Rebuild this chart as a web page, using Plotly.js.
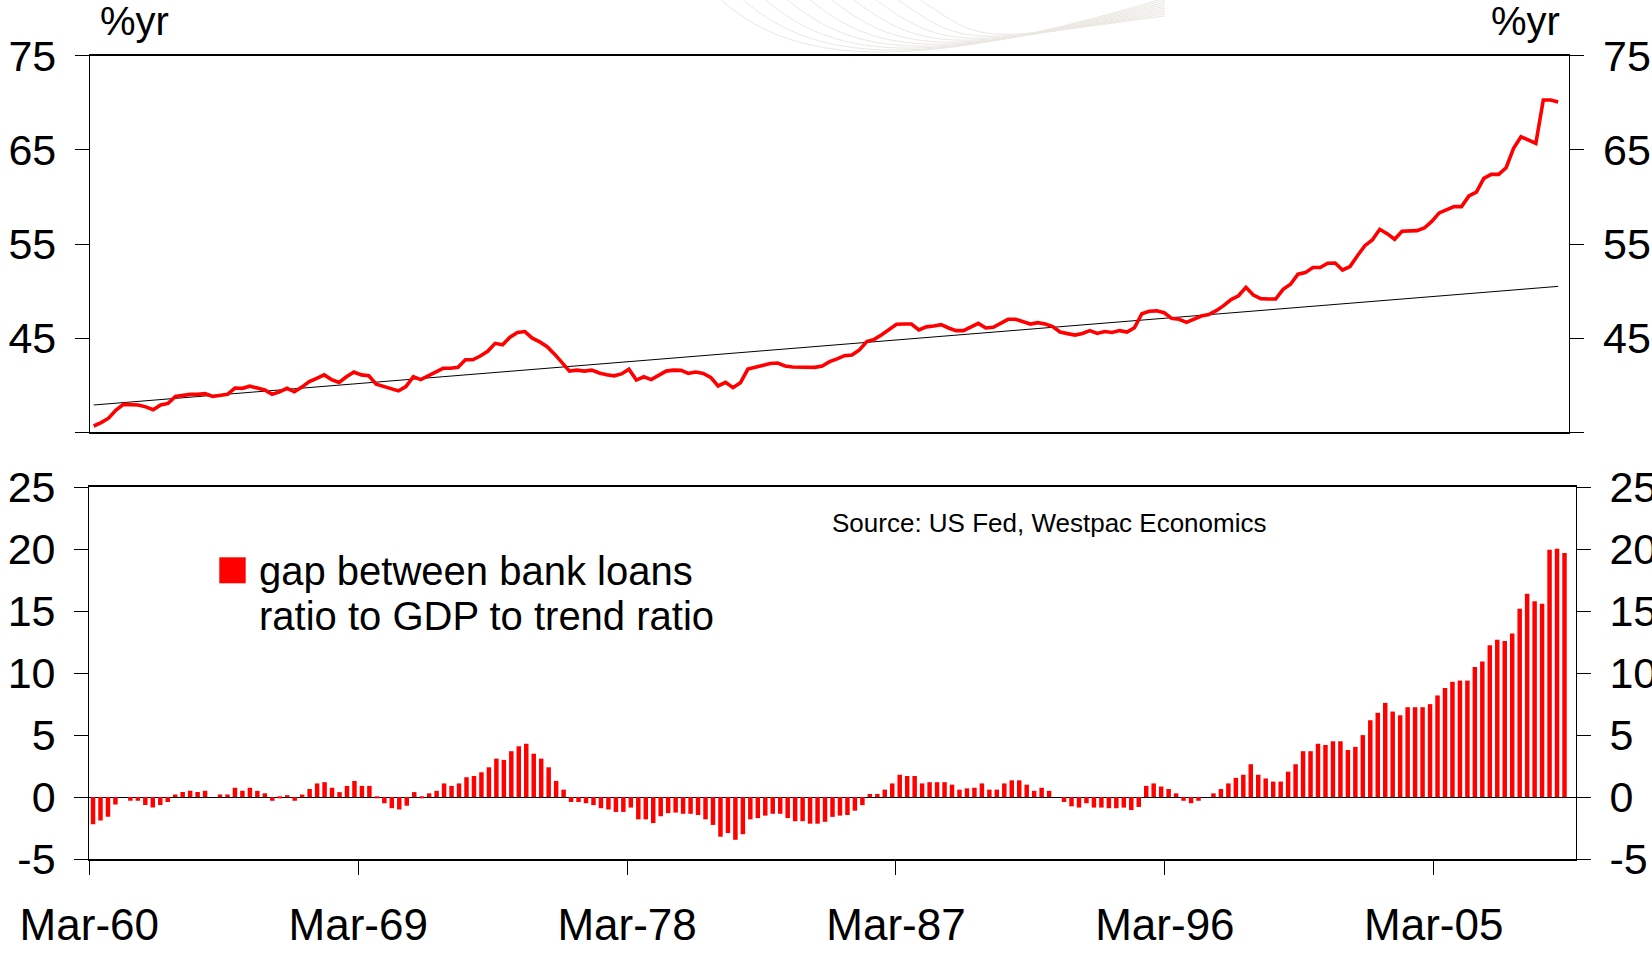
<!DOCTYPE html>
<html>
<head>
<meta charset="utf-8">
<script src="https://cdn.plot.ly/plotly-3.0.1.min.js"></script>
<style>
  html, body { margin: 0; padding: 0; background: #ffffff; }
  #chart { width: 1652px; height: 953px; }
</style>
</head>
<body>
<div id="chart"></div>
<script>
// ---- Data (quarterly, Mar-60 onwards) ----
const startYear = 1960;
const quarterMonths = ['Mar', 'Jun', 'Sep', 'Dec'];

// Bank loans ratio to GDP (%)
const loansToGDP = [
  35.67, 36.03, 36.5, 37.37, 37.97, 37.9, 37.9, 37.7, 37.4, 37.9,
  38.07, 38.8, 38.9, 39.03, 39.03, 39.1, 38.8, 38.9, 39.03, 39.7,
  39.67, 39.9, 39.7, 39.5, 39.03, 39.3, 39.67, 39.3, 39.8, 40.38,
  40.73, 41.1, 40.6, 40.3, 40.9, 41.4, 41.1, 41.0, 40.1, 39.85,
  39.67, 39.4, 39.85, 40.9, 40.6, 41.0, 41.4, 41.8, 41.8, 41.9,
  42.7, 42.7, 43.1, 43.6, 44.45, 44.3, 45.1, 45.6, 45.7, 45.0,
  44.6, 44.1, 43.3, 42.45, 41.5, 41.6, 41.5, 41.6, 41.3, 41.12,
  41.0, 41.2, 41.7, 40.55, 40.9, 40.6, 41.09, 41.5, 41.6, 41.58,
  41.26, 41.4, 41.26, 40.84, 39.92, 40.3, 39.74, 40.27, 41.72, 41.9,
  42.04, 42.3, 42.36, 42.04, 41.93, 41.9, 41.9, 41.9, 42.04, 42.5,
  42.8, 43.14, 43.2, 43.74, 44.63, 44.87, 45.37, 45.87, 46.47, 46.5,
  46.5, 45.87, 46.2, 46.29, 46.43, 46.08, 45.8, 45.8, 46.15, 46.57,
  46.08, 46.15, 46.57, 47.0, 47.0, 46.75, 46.5, 46.65, 46.5, 46.22,
  45.65, 45.48, 45.33, 45.5, 45.8, 45.5, 45.7, 45.6, 45.8, 45.65,
  46.1, 47.6, 47.85, 47.9, 47.7, 47.1, 47.0, 46.68, 47.03, 47.35,
  47.5, 47.92, 48.45, 49.1, 49.5, 50.4, 49.58, 49.2, 49.16, 49.16,
  50.19, 50.72, 51.8, 51.96, 52.5, 52.5, 52.95, 52.98, 52.24, 52.6,
  53.76, 54.82, 55.43, 56.56, 56.1, 55.5, 56.35, 56.42, 56.42, 56.7,
  57.4, 58.3, 58.68, 58.97, 58.97, 60.1, 60.5, 61.97, 62.4, 62.4,
  63.1, 65.16, 66.4, 66.0, 65.69, 70.3, 70.3, 70.08
];

// Trend ratio: straight line, first and last values
const trendEnds = [37.9, 50.5];

// Gap between bank loans ratio to GDP and trend ratio (ppt)
const gapToTrend = [
  -2.2, -1.9, -1.6, -0.6, 0.0, -0.3, -0.3, -0.65, -0.85, -0.65,
  -0.4, 0.2, 0.4, 0.5, 0.4, 0.5, 0.0, 0.2, 0.2, 0.75,
  0.5, 0.75, 0.5, 0.3, -0.3, -0.1, 0.15, -0.3, 0.2, 0.65,
  1.1, 1.2, 0.75, 0.4, 0.9, 1.3, 0.9, 0.9, -0.1, -0.5,
  -0.9, -1.0, -0.7, 0.4, -0.1, 0.3, 0.5, 1.1, 0.9, 1.1,
  1.6, 1.7, 2.0, 2.4, 3.1, 3.0, 3.7, 4.1, 4.3, 3.5,
  3.1, 2.4, 1.3, 0.6, -0.4, -0.4, -0.5, -0.65, -0.9, -1.0,
  -1.2, -1.2, -0.85, -1.8, -1.8, -2.1, -1.55, -1.3, -1.25, -1.35,
  -1.35, -1.45, -1.8, -2.25, -3.2, -2.9, -3.45, -3.0, -1.8, -1.7,
  -1.5, -1.35, -1.35, -1.7, -1.95, -1.95, -2.15, -2.15, -2.0, -1.6,
  -1.5, -1.45, -1.1, -0.65, 0.25, 0.25, 0.6, 1.1, 1.8, 1.7,
  1.7, 1.1, 1.2, 1.2, 1.2, 1.0, 0.6, 0.7, 0.75, 1.1,
  0.6, 0.6, 1.1, 1.35, 1.35, 1.0, 0.5, 0.75, 0.5, 0.0,
  -0.4, -0.75, -0.85, -0.5, -0.85, -0.85, -0.9, -0.9, -0.85, -1.05,
  -0.8, 0.9, 1.1, 0.85, 0.65, 0.3, -0.3, -0.5, -0.3, 0.0,
  0.3, 0.65, 1.1, 1.55, 1.8, 2.65, 1.8, 1.5, 1.25, 1.25,
  2.05, 2.65, 3.7, 3.7, 4.3, 4.2, 4.5, 4.5, 3.8, 4.05,
  5.0, 6.2, 6.8, 7.6, 6.9, 6.6, 7.25, 7.25, 7.25, 7.5,
  8.2, 8.8, 9.3, 9.4, 9.4, 10.5, 10.95, 12.25, 12.7, 12.6,
  13.2, 15.2, 16.4, 15.8, 15.6, 19.95, 20.05, 19.7
];

const xTickLabels = ['Mar-60', 'Mar-69', 'Mar-78', 'Mar-87', 'Mar-96', 'Mar-05'];
const topTickVals = [35, 45, 55, 65, 75];
const topTickText = ['', '45', '55', '65', '75'];
const botTickVals = [-5, 0, 5, 10, 15, 20, 25];
const botTickText = ['-5', '0', '5', '10', '15', '20', '25'];

const legendLines = ['gap between bank loans', 'ratio to GDP to trend ratio'];
const sourceText = 'Source: US Fed, Westpac Economics';
const unitText = '%yr';

// ---- Derived helpers (positions only) ----
const nPts = loansToGDP.length;
const nCats = nPts + 1;               // one empty category at the end, as in the original
const idx = loansToGDP.map((_, i) => i);
const quarters = idx.map(i => quarterMonths[i % 4] + '-' + String((startYear + Math.floor(i / 4)) % 100).padStart(2, '0'));
const xTickVals = xTickLabels.map((_, k) => k * 36 - 0.5);
const xRange = [-0.5, nCats - 0.5];

const W = 1652, H = 953;
const px = v => v / W;
const py = v => 1 - v / H;

const FONT = 'Liberation Sans, Arial, Helvetica, sans-serif';
const RED = '#ff0000';

const traces = [
  {
    type: 'scatter', mode: 'lines', name: 'trend ratio',
    x: [idx[0], idx[nPts - 1]], y: trendEnds,
    xaxis: 'x', yaxis: 'y',
    line: { color: '#000000', width: 1 },
    hoverinfo: 'skip', showlegend: false
  },
  {
    type: 'scatter', mode: 'lines', name: 'bank loans ratio to GDP',
    x: idx, y: loansToGDP, text: quarters,
    xaxis: 'x', yaxis: 'y',
    line: { color: RED, width: 3.6 },
    showlegend: false
  },
  {
    type: 'bar', name: legendLines.join(' '),
    x: idx, y: gapToTrend, text: quarters, textposition: 'none',
    xaxis: 'x2', yaxis: 'y2',
    marker: { color: RED, line: { width: 0 } },
    showlegend: false
  },
  // empty traces so the right-hand axes are drawn
  { type: 'scatter', mode: 'lines', x: [], y: [], xaxis: 'x', yaxis: 'y3', showlegend: false, hoverinfo: 'skip' },
  { type: 'scatter', mode: 'lines', x: [], y: [], xaxis: 'x2', yaxis: 'y4', showlegend: false, hoverinfo: 'skip' }
];

const yTickCommon = {
  ticks: 'outside', ticklen: 14, tickwidth: 1.3, tickcolor: '#000',
  showline: true, linewidth: 1.3, linecolor: '#000',
  showgrid: false, zeroline: false,
  tickfont: { family: FONT, size: 43, color: '#000' },
  ticklabelstandoff: 10
};

// decorative faint swoosh behind the top title area
const swoosh = [];
for (let k = 0; k < 10; k++) {
  const x0 = 718 + k * 22, y0 = -3;
  const c1x = x0 + 70, c1y = 62 - k * 2;
  const c2x = 900 + k * 8, c2y = 78 - k * 4;
  const x1 = 1165, y1 = -2 + k * 2;
  swoosh.push({
    type: 'path', xref: 'paper', yref: 'paper', layer: 'below',
    path: `M ${px(x0)},${py(y0)} C ${px(c1x)},${py(c1y)} ${px(c2x)},${py(c2y)} ${px(x1)},${py(y1)}`,
    line: { color: '#ebe8e2', width: 1 }
  });
}

const layout = {
  width: W, height: H,
  margin: { l: 0, r: 0, t: 0, b: 0, pad: 0 },
  paper_bgcolor: '#ffffff',
  plot_bgcolor: 'rgba(0,0,0,0)',
  showlegend: false,
  bargap: 0.4,
  font: { family: FONT, color: '#000' },

  xaxis: {
    domain: [px(90), px(1569.3)], anchor: 'y', range: xRange,
    showline: true, linewidth: 1.8, linecolor: '#000', mirror: true,
    ticks: '', showticklabels: false, showgrid: false, zeroline: false
  },
  yaxis: Object.assign({}, yTickCommon, {
    domain: [py(432.3), py(55.7)], anchor: 'x', range: [35, 75],
    tickvals: topTickVals, ticktext: topTickText, side: 'left'
  }),
  yaxis3: Object.assign({}, yTickCommon, {
    overlaying: 'y', anchor: 'x', side: 'right', range: [35, 75],
    tickvals: topTickVals, ticktext: topTickText
  }),

  xaxis2: {
    domain: [px(89.3), px(1575.7)], anchor: 'y2', range: xRange,
    showline: true, linewidth: 1.5, linecolor: '#000', mirror: true,
    tickvals: xTickVals, ticktext: xTickLabels,
    ticks: 'outside', ticklen: 14, tickwidth: 1.3, tickcolor: '#000',
    tickfont: { family: FONT, size: 44, color: '#000' },
    ticklabelstandoff: 12,
    showgrid: false, zeroline: false
  },
  yaxis2: Object.assign({}, yTickCommon, {
    domain: [py(859), py(487.3)], anchor: 'x2', range: [-5, 25],
    tickvals: botTickVals, ticktext: botTickText, side: 'left',
    zeroline: true, zerolinecolor: '#000', zerolinewidth: 1.3
  }),
  yaxis4: Object.assign({}, yTickCommon, {
    overlaying: 'y2', anchor: 'x2', side: 'right', range: [-5, 25],
    tickvals: botTickVals, ticktext: botTickText
  }),

  shapes: swoosh.concat([
    // legend swatch
    {
      type: 'rect', xref: 'paper', yref: 'paper',
      x0: px(219.3), x1: px(245.7), y0: py(583.3), y1: py(557.3),
      fillcolor: RED, line: { width: 0 }
    }
  ]),

  annotations: [
    { text: unitText, xref: 'paper', yref: 'paper', x: px(98), y: py(21),
      xanchor: 'left', yanchor: 'middle', showarrow: false,
      font: { family: FONT, size: 40, color: '#000' } },
    { text: unitText, xref: 'paper', yref: 'paper', x: px(1562), y: py(21),
      xanchor: 'right', yanchor: 'middle', showarrow: false,
      font: { family: FONT, size: 40, color: '#000' } },
    { text: sourceText, xref: 'paper', yref: 'paper', x: px(1049), y: py(522.6),
      xanchor: 'center', yanchor: 'middle', showarrow: false,
      font: { family: FONT, size: 26, color: '#000' } },
    { text: legendLines[0], xref: 'paper', yref: 'paper', x: px(257), y: py(571),
      xanchor: 'left', yanchor: 'middle', showarrow: false,
      font: { family: FONT, size: 40, color: '#000' } },
    { text: legendLines[1], xref: 'paper', yref: 'paper', x: px(257), y: py(616),
      xanchor: 'left', yanchor: 'middle', showarrow: false,
      font: { family: FONT, size: 40, color: '#000' } }
  ]
};

Plotly.newPlot('chart', traces, layout, { displayModeBar: false, responsive: false });
</script>
</body>
</html>
